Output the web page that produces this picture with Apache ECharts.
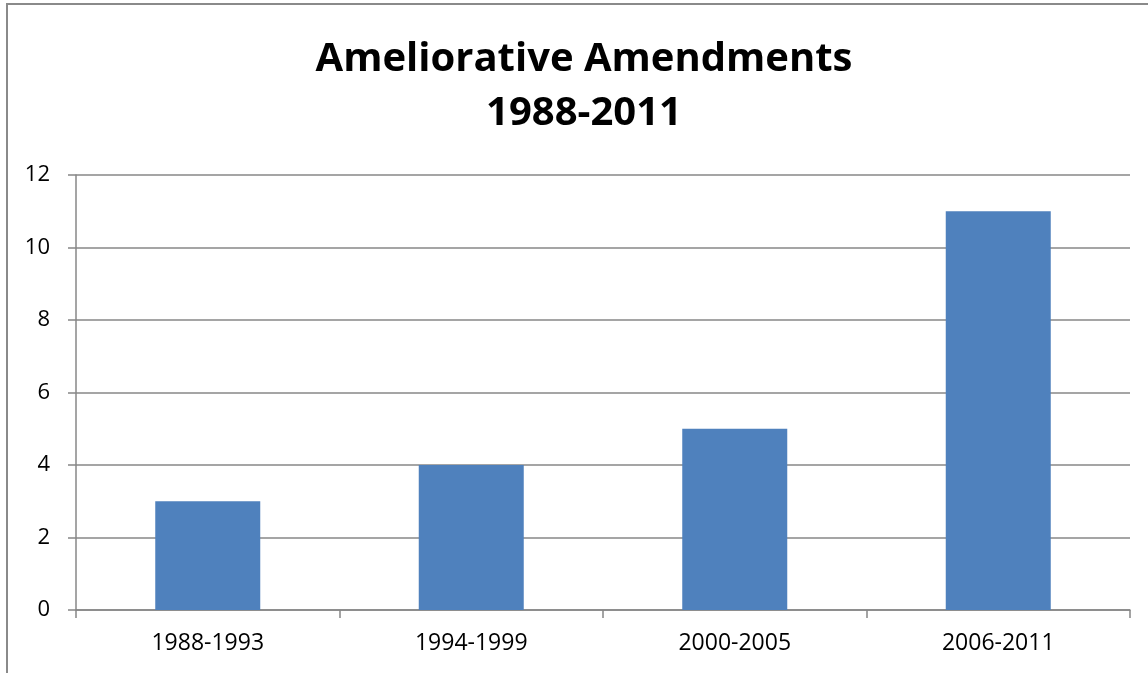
<!DOCTYPE html>
<html>
<head>
<meta charset="utf-8">
<title>Ameliorative Amendments 1988-2011</title>
<script src="https://cdn.jsdelivr.net/npm/echarts@6/dist/echarts.min.js"></script>
<style>
  html, body { margin: 0; padding: 0; background: #ffffff; }
  #chart { width: 1148px; height: 673px; }
</style>
</head>
<body>
<div id="chart"></div>
<script>
// Amendment counts per six-year period
const periods = ['1988-1993', '1994-1999', '2000-2005', '2006-2011'];
const amendmentCounts = [3, 4, 5, 11];
const yTicks = { min: 0, max: 12, interval: 2 };

const font = '"Open Sans", "DejaVu Sans", sans-serif';
const axisGray = '#878787';

const chart = echarts.init(document.getElementById('chart'), null, { renderer: 'canvas' });

chart.setOption({
  backgroundColor: '#ffffff',
  animation: false,
  title: {
    text: 'Ameliorative Amendments\n1988-2011',
    left: 579,
    top: 28,
    textAlign: 'center',
    textStyle: {
      fontFamily: font,
      fontWeight: 'bold',
      fontSize: 40,
      lineHeight: 54,
      color: '#000000'
    }
  },
  graphic: [
    {
      type: 'rect',
      shape: { x: 7, y: 4, width: 1160, height: 700 },
      style: { fill: 'none', stroke: '#8a8a8a', lineWidth: 2 },
      silent: true
    }
  ],
  grid: { left: 76, right: 18, top: 175, bottom: 63, containLabel: false },
  xAxis: {
    type: 'category',
    data: periods,
    boundaryGap: true,
    axisLine: { show: true, lineStyle: { color: axisGray, width: 1.5 } },
    axisTick: { show: true, alignWithLabel: false, length: 8, lineStyle: { color: axisGray, width: 1.5 } },
    axisLabel: { fontFamily: font, fontSize: 23, color: '#000000', margin: 22 },
    splitLine: { show: false }
  },
  yAxis: {
    type: 'value',
    min: yTicks.min,
    max: yTicks.max,
    interval: yTicks.interval,
    axisLine: { show: true, lineStyle: { color: axisGray, width: 1.5 } },
    axisTick: { show: true, length: 8, lineStyle: { color: axisGray, width: 1.5 } },
    axisLabel: { fontFamily: font, fontSize: 22, color: '#000000', margin: 26 },
    splitLine: { show: true, lineStyle: { color: axisGray, width: 1.5 } }
  },
  series: [
    {
      type: 'bar',
      data: amendmentCounts,
      barWidth: 105,
      itemStyle: { color: '#4F81BD' }
    }
  ]
});
</script>
</body>
</html>
